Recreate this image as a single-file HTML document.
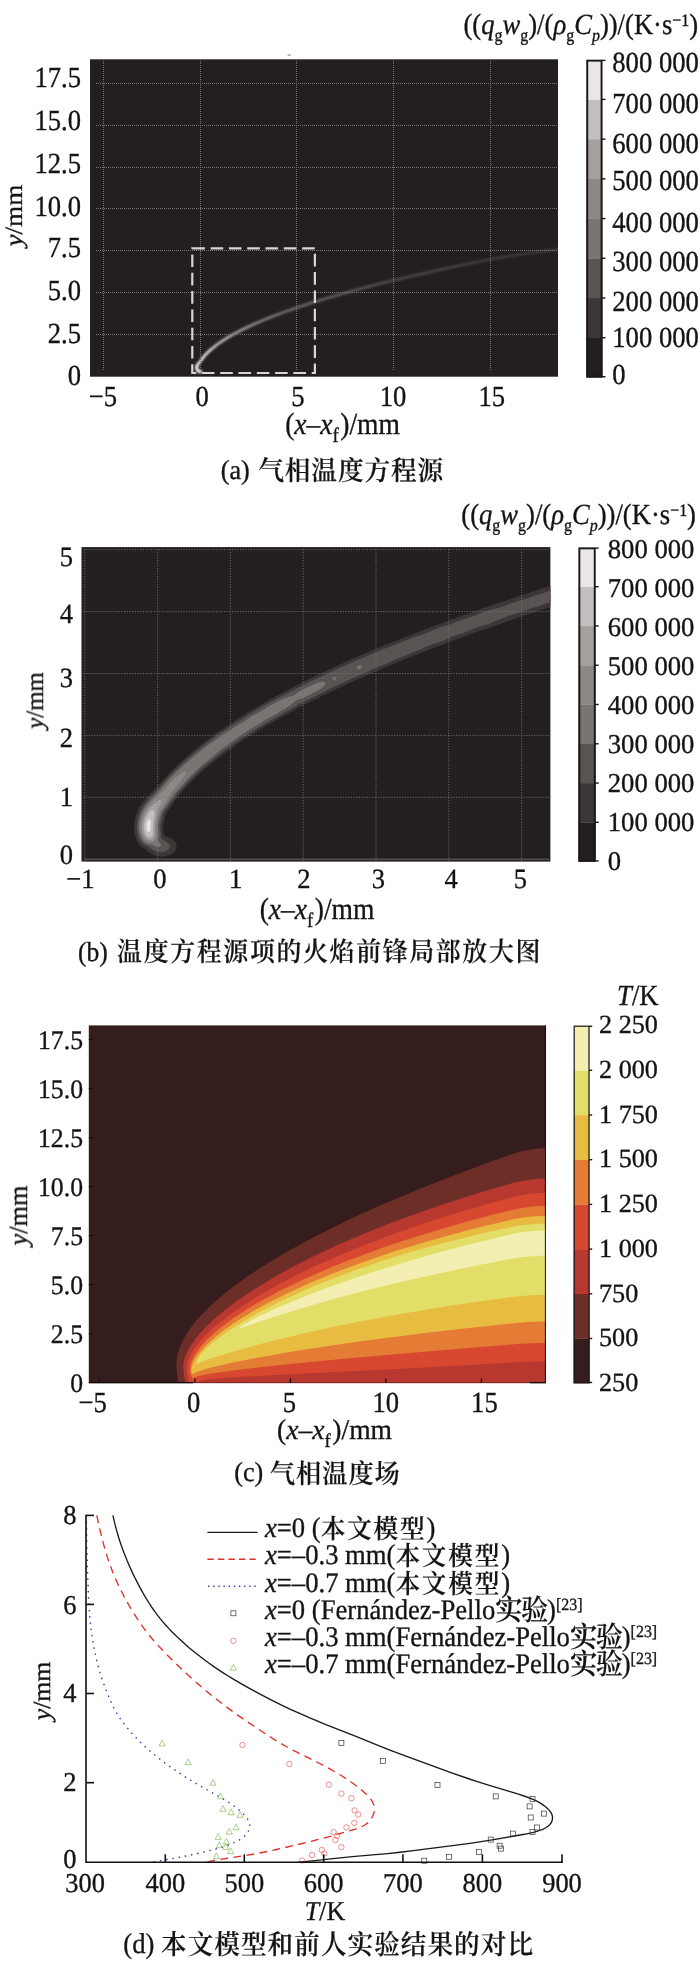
<!DOCTYPE html>
<html lang="zh">
<head>
<meta charset="utf-8">
<title>Figure</title>
<style>
html,body{margin:0;padding:0;background:#fff;}
body{width:700px;height:1963px;overflow:hidden;}
svg{display:block;font-family:"Liberation Serif", "Noto Serif CJK SC", serif;fill:#141414;text-rendering:geometricPrecision;}
text{stroke:#141414;stroke-width:0.35px;}
.it{font-style:italic;}
</style>
</head>
<body>
<svg width="700" height="1963" viewBox="0 0 700 1963">
<rect x="0" y="0" width="700" height="1963" fill="#ffffff"/>
<g opacity="0.999">
<g id="panel-a">
<rect x="287.6" y="54.3" width="3" height="1.5" fill="#a3a3a3"/>
<rect x="90.0" y="59.3" width="468.0" height="317.4" fill="#231f1e"/>
<defs>
<linearGradient id="flameA" gradientUnits="userSpaceOnUse" x1="194" y1="0" x2="558" y2="0"><stop offset="0.0000" stop-color="#fffbf9"/><stop offset="0.0302" stop-color="#ebe7e5"/><stop offset="0.0687" stop-color="#c3bfbd"/><stop offset="0.1319" stop-color="#9e9a98"/><stop offset="0.1923" stop-color="#85817f"/><stop offset="0.2912" stop-color="#6e6a68"/><stop offset="0.5659" stop-color="#4e4a48"/><stop offset="0.8407" stop-color="#403c3a"/><stop offset="1.0000" stop-color="#3a3634"/></linearGradient>
<filter id="soft" filterUnits="userSpaceOnUse" x="80" y="50" width="490" height="340"><feGaussianBlur stdDeviation="1.0"/></filter>
<clipPath id="clipA"><rect x="90.0" y="59.3" width="468.0" height="317.4"/></clipPath>
</defs>
<g clip-path="url(#clipA)" fill="none" stroke-linecap="round" stroke-linejoin="round"><path d="M200.78,371.59 L199.73,371.69 L198.81,371.43 L198.03,370.87 L197.41,370.08 L196.97,369.11 L196.73,368.04 L196.72,366.91 L196.98,365.78 L197.53,364.69 L198.34,363.68 L200,361.94 L201.87,359.15 L204.03,356.43 L205.8,354.45 L207.7,352.51 L210.41,349.98 L214.07,346.92 L217.2,344.53 L221.34,341.63 L227.51,337.71 L235.06,333.4 L243.09,329.25 L252.63,324.75 L262.66,320.41 L273.15,316.21 L284.05,312.13 L296.62,307.73 L309.64,303.46 L324.44,298.89 L339.72,294.43 L356.9,289.7 L374.59,285.08 L392.75,280.58 L411.36,276.17 L432,271.49 L451.56,267.25 L472.12,262.96 L485.91,260.26 L499.72,257.77 L514.93,255.24 L531.54,252.73 L546.78,250.65 L563.42,248.6" stroke="url(#flameA)" stroke-width="2.6" filter="url(#soft)"/><path d="M200.78,371.59 L199.73,371.69 L198.81,371.43 L198.03,370.87 L197.41,370.08 L196.97,369.11 L196.73,368.04 L196.72,366.91 L196.98,365.78" stroke="#f4f0ee" stroke-opacity="0.5" stroke-width="2.4" filter="url(#soft)"/></g>
<g stroke="#7b7775" stroke-width="1" stroke-dasharray="1 1" fill="none"><line x1="103.5" y1="61" x2="103.5" y2="371"/><line x1="200.5" y1="61" x2="200.5" y2="371"/><line x1="296.5" y1="61" x2="296.5" y2="371"/><line x1="393.5" y1="61" x2="393.5" y2="371"/><line x1="490.5" y1="61" x2="490.5" y2="371"/><line x1="96" y1="83.5" x2="557" y2="83.5"/><line x1="96" y1="125.5" x2="557" y2="125.5"/><line x1="96" y1="167.5" x2="557" y2="167.5"/><line x1="96" y1="208.5" x2="557" y2="208.5"/><line x1="96" y1="250.5" x2="557" y2="250.5"/><line x1="96" y1="292.5" x2="557" y2="292.5"/><line x1="96" y1="334.5" x2="557" y2="334.5"/></g>
<rect x="192.3" y="248.3" width="122.6" height="124.7" fill="none" stroke="#d9d5d2" stroke-width="2.2" stroke-dasharray="12.6 5.7"/>
<text transform="translate(81,86.85) scale(0.912,1)" font-size="29.2" text-anchor="end">17.5</text>
<text transform="translate(81,129.85) scale(0.912,1)" font-size="29.2" text-anchor="end">15.0</text>
<text transform="translate(81,173.4) scale(0.912,1)" font-size="29.2" text-anchor="end">12.5</text>
<text transform="translate(81,215.7) scale(0.912,1)" font-size="29.2" text-anchor="end">10.0</text>
<text transform="translate(81,257.1) scale(0.912,1)" font-size="29.2" text-anchor="end">7.5</text>
<text transform="translate(81,300) scale(0.912,1)" font-size="29.2" text-anchor="end">5.0</text>
<text transform="translate(81,342.6) scale(0.912,1)" font-size="29.2" text-anchor="end">2.5</text>
<text transform="translate(81,384.7) scale(0.912,1)" font-size="29.2" text-anchor="end">0</text>
<text transform="translate(103,405.7) scale(0.912,1)" font-size="29.2" text-anchor="middle">−5</text>
<text transform="translate(202.2,405.7) scale(0.912,1)" font-size="29.2" text-anchor="middle">0</text>
<text transform="translate(297.9,405.7) scale(0.912,1)" font-size="29.2" text-anchor="middle">5</text>
<text transform="translate(393,405.7) scale(0.912,1)" font-size="29.2" text-anchor="middle">10</text>
<text transform="translate(491.8,405.7) scale(0.912,1)" font-size="29.2" text-anchor="middle">15</text>
<text transform="translate(342.5,434) scale(0.9,1)" font-size="30.6" text-anchor="middle">(<tspan class="it">x</tspan>–<tspan class="it">x</tspan><tspan font-size="20.8" baseline-shift="-8">f</tspan><tspan dx="1.6">)/mm</tspan></text>
<text transform="translate(22,215.6) rotate(-90) scale(1,0.912)" font-size="27.2" text-anchor="middle"><tspan class="it">y</tspan>/mm</text>
<text transform="translate(220.7,479.3) scale(0.95,1)" font-size="27.5" text-anchor="start">(a) <tspan dx="2.11" font-size="27.0" letter-spacing="0.95" font-weight="600" stroke-width="0.15" baseline-shift="-0.8">气相温度方程源</tspan></text>
<rect x="586.3" y="337.69" width="16.2" height="40.01" fill="#231f1e"/>
<rect x="586.3" y="297.97" width="16.2" height="40.01" fill="#3c3736"/>
<rect x="586.3" y="258.26" width="16.2" height="40.01" fill="#595352"/>
<rect x="586.3" y="218.55" width="16.2" height="40.01" fill="#7a7473"/>
<rect x="586.3" y="178.84" width="16.2" height="40.01" fill="#8d8786"/>
<rect x="586.3" y="139.12" width="16.2" height="40.01" fill="#a59f9e"/>
<rect x="586.3" y="99.41" width="16.2" height="40.01" fill="#c4bebe"/>
<rect x="586.3" y="59.7" width="16.2" height="40.01" fill="#ece6e6"/>
<rect x="587.25" y="60.65" width="14.3" height="315.8" fill="none" stroke="#1a1716" stroke-width="1.9"/>
<line x1="602" y1="60.4" x2="605.5" y2="60.4" stroke="#1a1716" stroke-width="1.4"/>
<line x1="602" y1="99.41" x2="605.5" y2="99.41" stroke="#1a1716" stroke-width="1.4"/>
<line x1="602" y1="139.12" x2="605.5" y2="139.12" stroke="#1a1716" stroke-width="1.4"/>
<line x1="602" y1="178.84" x2="605.5" y2="178.84" stroke="#1a1716" stroke-width="1.4"/>
<line x1="602" y1="218.55" x2="605.5" y2="218.55" stroke="#1a1716" stroke-width="1.4"/>
<line x1="602" y1="258.26" x2="605.5" y2="258.26" stroke="#1a1716" stroke-width="1.4"/>
<line x1="602" y1="297.97" x2="605.5" y2="297.97" stroke="#1a1716" stroke-width="1.4"/>
<line x1="602" y1="337.69" x2="605.5" y2="337.69" stroke="#1a1716" stroke-width="1.4"/>
<line x1="602" y1="376.7" x2="605.5" y2="376.7" stroke="#1a1716" stroke-width="1.4"/>
<text transform="translate(612.3,72.21) scale(0.912,1)" font-size="29.2" text-anchor="start">800 000</text>
<text transform="translate(612.3,113.01) scale(0.912,1)" font-size="29.2" text-anchor="start">700 000</text>
<text transform="translate(612.3,152.91) scale(0.912,1)" font-size="29.2" text-anchor="start">600 000</text>
<text transform="translate(612.3,189.61) scale(0.912,1)" font-size="29.2" text-anchor="start">500 000</text>
<text transform="translate(612.3,231.91) scale(0.912,1)" font-size="29.2" text-anchor="start">400 000</text>
<text transform="translate(612.3,271.11) scale(0.912,1)" font-size="29.2" text-anchor="start">300 000</text>
<text transform="translate(612.3,311.11) scale(0.912,1)" font-size="29.2" text-anchor="start">200 000</text>
<text transform="translate(612.3,346.81) scale(0.912,1)" font-size="29.2" text-anchor="start">100 000</text>
<text transform="translate(612.3,383.91) scale(0.912,1)" font-size="29.2" text-anchor="start">0</text>
<text transform="translate(698.2,34.1) scale(0.912,1)" font-size="29.2" text-anchor="end">((<tspan class="it">q</tspan><tspan font-size="17.5" baseline-shift="-6.8">g</tspan><tspan class="it">w</tspan><tspan font-size="17.5" baseline-shift="-6.8">g</tspan>)/(<tspan class="it">ρ</tspan><tspan font-size="17.5" baseline-shift="-6.8">g</tspan><tspan class="it">C</tspan><tspan class="it" font-size="17.5" baseline-shift="-6.8">p</tspan>))/(K·s<tspan font-size="17.5" baseline-shift="8.5">−1</tspan>)</text>
</g>
<g id="panel-b">
<rect x="81.5" y="547.1" width="468.9" height="314.5" fill="#231f1e"/>
<path d="M550.4,606.84 L506,621.64 L489,627.89 L480,630.79 L464,636.71 L455,639.76 L446,643.43 L428.17,650 L398.29,662 L372.08,673 L364,676.7 L353.89,681 L332.14,691 L299,707.45 L267.6,725 L252.67,734 L241.83,741 L235.91,745 L220.87,756 L205.97,768 L195,778 L188,785.06 L180.84,793 L176.98,798 L167,812.32 L166,814.18 L165.07,817 L163.83,822 L163.1,826 L163.04,829 L163.94,835 L165,836.04 L171,838.51 L173,839.68 L174,840.5 L175.31,842 L175.88,843 L176.29,844 L176.65,846 L176.47,848 L176.17,849 L175.12,851 L173.21,853 L171,854.48 L169,855.39 L166,856.25 L163,856.63 L160,856.58 L158,856.29 L155,855.48 L152,854.12 L149,852.21 L145.18,849 L143,847.69 L141,846.08 L139.07,844 L137.66,842 L136.18,839 L134.87,835 L134.14,831 L133.96,827 L134.47,821 L135.36,817 L136.28,814 L138.3,809 L141.39,804 L144.5,800 L148.05,796 L155,788.98 L169,773.42 L178,764.43 L186,757.17 L199,746.2 L205,741.5 L217,732.76 L234,721.27 L246,713.61 L265,702.25 L281,693.44 L289.85,689 L300,683.59 L314,676.61 L331,668.61 L355,657.64 L381,646.62 L406,636.64 L439,623.96 L448,620.96 L457,617.43 L473,611.88 L482,608.45 L499,602.97 L517,596.73 L550.4,585.66Z" fill="#3c3736"/>
<path d="M550.4,601.91 L546,603.44 L539,606.07 L530,608.78 L521.48,612 L504,617.45 L496,621 L488,624.19 L479,626.71 L462,633.41 L454,635.78 L445.01,640 L429,645.62 L418.94,650 L396,659.33 L387,663.43 L371,670.03 L362.78,674 L352,678.49 L330,688.71 L321.84,693 L298,704.76 L290,709.48 L267,722.4 L250,732.72 L237,741.25 L222.11,752 L207.17,764 L201,769.23 L189.82,780 L179.66,791 L174.84,797 L164.76,811 L163,814.43 L161.13,821 L160.29,826 L160.23,829 L160.91,834 L160.95,838 L163,839.71 L167.89,843 L169,844.29 L169.69,846 L169.7,847 L169.42,848 L168.84,849 L167.89,850 L166.38,851 L164,851.89 L162,852.23 L159,852.19 L157,851.78 L155,851.08 L153,850.08 L148.69,847 L145,845.31 L143.19,844 L142,842.89 L140.48,841 L139.34,839 L138.48,837 L137.54,834 L137.13,832 L136.75,827 L136.92,824 L137.33,821 L138.62,816 L140.52,811 L142.1,808 L144.03,805 L146.29,802 L150,797.61 L157,790.37 L168.65,777 L173,772.44 L179,766.57 L187,759.34 L201.66,747 L206,743.62 L220,733.53 L235,723.56 L250.01,714 L267,704 L282,695.88 L291,691.61 L299.39,687 L315,679.25 L323,675.75 L332.89,671 L348,664.28 L356,660.44 L365,656.94 L381,649.98 L390,646.68 L412.04,638 L424,633.88 L441,627.04 L450,624.57 L458,621.08 L475,615.62 L483.43,612 L493.63,609 L501,607.16 L509.21,604 L517.93,601 L526,598.71 L535,595.55 L543,593.31 L550.4,590.59Z" fill="#595352"/>
<path d="M357.56,666 L359,665.27 L360,665.34 L361,665.81 L361.22,666 L361.52,667 L361.26,668 L360,669.19 L359,669.34 L357.08,669 L356.52,668 L356.79,667 L357.56,666ZM334.97,677 L336,677.62 L336.23,678 L335.97,679 L335,679.65 L334,679.92 L333,679.63 L332.55,679 L332.97,678 L334,677.29 L334.97,677ZM320.23,682 L322,681.75 L324,681.81 L325,682.24 L325.51,683 L325.49,684 L325.01,685 L323.1,687 L320.51,689 L311.08,694 L303.04,698 L296,700.45 L291.98,704 L287.84,707 L272.64,716 L265,720.01 L257.54,725 L249,729.84 L235,739.21 L227.58,745 L221,749.57 L214,755.6 L200,766.89 L188,778.78 L176.09,792 L171.49,798 L162.95,810 L161.82,812 L160.97,814 L160,817.1 L159.02,821 L158.5,824 L158.2,827 L158.21,829 L158.76,834 L158.77,836 L158.46,838 L157.79,840 L158,840.75 L160.47,844 L160.94,845 L160.89,846 L159.75,847 L158,847.19 L156.81,847 L155,846.37 L152,844.85 L149,844.4 L147,843.77 L145,842.63 L143.18,841 L141.72,839 L139.96,835 L139.02,831 L138.76,827 L139.06,823 L139.86,819 L141.53,814 L143.35,810 L146.54,805 L152,798.42 L158.37,792 L168,780.79 L172,776.41 L178,770.5 L184,764.94 L199.24,752 L206.66,746 L214,741.14 L222,735.23 L230,730.33 L237.94,725 L244,721.44 L251.99,716 L260,711.78 L269.33,706 L278.91,701 L285.28,698 L289,696.79 L293,695.89 L300,691.06 L302.02,690 L308.01,687 L316.66,683 L320.23,682Z" fill="#7a7473"/>
<path d="M183.35,772 L185,771.51 L186.1,772 L186.18,773 L185.3,775 L181,781.13 L173.54,790 L171.46,793 L164.04,805 L161.14,809 L159.69,812 L157.85,818 L156.88,823 L156.47,828 L156.9,835 L156.64,837 L155.88,839 L155,840.27 L154,841.18 L152,842.15 L150,842.36 L149,842.23 L147,841.53 L144.86,840 L143.98,839 L142.75,837 L141.21,833 L140.54,829 L140.67,824 L141.41,820 L142.69,816 L144.9,811 L146.06,809 L148,806.25 L155,798.3 L162,792 L174.07,779 L179,774.87 L183.35,772Z" fill="#8d8786"/>
<path d="M158.82,800 L160,799.96 L161,800.7 L161.28,802 L160.74,804 L160,805.59 L159.01,807 L158.28,809 L155.8,819 L154.87,826 L154.81,830 L155,834 L154.85,836 L154.02,838 L153,839.15 L152,839.77 L151,840.1 L149,840.07 L147,839.24 L145.6,838 L144,835.48 L143,833 L142.49,831 L142.16,828 L142.35,824 L142.89,821 L143.79,818 L145,815.02 L146.48,812 L148,809.59 L150,807.18 L154.8,803 L155.56,802 L157,800.9 L158.82,800Z" fill="#a59f9e"/>
<path d="M152.2,810 L153,809.94 L154,810.75 L154.38,812 L154.45,813 L153.09,826 L152.79,834 L152.67,835 L152.3,836 L151.45,837 L150,837.58 L149,837.5 L148,837.09 L147,836.2 L146,834.87 L145,832.96 L144.37,831 L144,829 L143.95,826 L144.14,824 L144.77,821 L145.45,819 L148,813.82 L150,811.24 L151,810.47 L152.2,810Z" fill="#c4bebe"/>
<path d="M148.31,820 L149,819.18 L150,819.13 L150.41,820 L150.73,822 L150.51,828 L150.27,830 L150,831.09 L149,832.16 L148,831.89 L147,830.45 L146.45,828 L146.54,825 L146.88,823 L148,820.33 L148.31,820Z" fill="#ece6e6"/>
<g stroke="#7b7775" stroke-width="0.9" stroke-dasharray="1.1 1.6" fill="none"><line x1="84.8" y1="549.1" x2="84.8" y2="860.6"/><line x1="157.6" y1="549.1" x2="157.6" y2="860.6"/><line x1="230.4" y1="549.1" x2="230.4" y2="860.6"/><line x1="303.2" y1="549.1" x2="303.2" y2="860.6"/><line x1="376" y1="549.1" x2="376" y2="860.6"/><line x1="448.8" y1="549.1" x2="448.8" y2="860.6"/><line x1="521.6" y1="549.1" x2="521.6" y2="860.6"/><line x1="83.5" y1="797.3" x2="549.4" y2="797.3"/><line x1="83.5" y1="735.4" x2="549.4" y2="735.4"/><line x1="83.5" y1="673.5" x2="549.4" y2="673.5"/><line x1="83.5" y1="611.6" x2="549.4" y2="611.6"/><line x1="83.5" y1="549.7" x2="549.4" y2="549.7"/><line x1="84.5" y1="859.2" x2="549.4" y2="859.2" stroke="#7d7976" stroke-width="0.8" stroke-dasharray="none"/></g>
<text transform="translate(73,565.85) scale(0.955,1)" font-size="27.8" text-anchor="end">5</text>
<text transform="translate(73,622.85) scale(0.955,1)" font-size="27.8" text-anchor="end">4</text>
<text transform="translate(73,687.05) scale(0.955,1)" font-size="27.8" text-anchor="end">3</text>
<text transform="translate(73,746.75) scale(0.955,1)" font-size="27.8" text-anchor="end">2</text>
<text transform="translate(73,806.45) scale(0.955,1)" font-size="27.8" text-anchor="end">1</text>
<text transform="translate(73,864.35) scale(0.955,1)" font-size="27.8" text-anchor="end">0</text>
<text transform="translate(80.3,888.2) scale(0.955,1)" font-size="27.8" text-anchor="middle">−1</text>
<text transform="translate(160,888.2) scale(0.955,1)" font-size="27.8" text-anchor="middle">0</text>
<text transform="translate(235.7,888.2) scale(0.955,1)" font-size="27.8" text-anchor="middle">1</text>
<text transform="translate(304,888.2) scale(0.955,1)" font-size="27.8" text-anchor="middle">2</text>
<text transform="translate(378.4,888.2) scale(0.955,1)" font-size="27.8" text-anchor="middle">3</text>
<text transform="translate(451.2,888.2) scale(0.955,1)" font-size="27.8" text-anchor="middle">4</text>
<text transform="translate(520.3,888.2) scale(0.955,1)" font-size="27.8" text-anchor="middle">5</text>
<text transform="translate(317,919) scale(0.9,1)" font-size="30.6" text-anchor="middle">(<tspan class="it">x</tspan>–<tspan class="it">x</tspan><tspan font-size="20.8" baseline-shift="-8">f</tspan><tspan dx="1.6">)/mm</tspan></text>
<text transform="translate(43,700.5) rotate(-90) scale(1,1.0)" font-size="24.8" text-anchor="middle"><tspan class="it">y</tspan>/mm</text>
<text transform="translate(77.9,960.7) scale(0.93,1)" font-size="27.5" text-anchor="start">(b) <tspan dx="3.23" font-size="26.8" letter-spacing="1.76" font-weight="600" stroke-width="0.15" baseline-shift="0">温度方程源项的火焰前锋局部放大图</tspan></text>
<rect x="578.4" y="822.33" width="17.3" height="39.58" fill="#231f1e"/>
<rect x="578.4" y="783.05" width="17.3" height="39.58" fill="#3c3736"/>
<rect x="578.4" y="743.77" width="17.3" height="39.58" fill="#595352"/>
<rect x="578.4" y="704.5" width="17.3" height="39.58" fill="#7a7473"/>
<rect x="578.4" y="665.23" width="17.3" height="39.58" fill="#8d8786"/>
<rect x="578.4" y="625.95" width="17.3" height="39.58" fill="#a59f9e"/>
<rect x="578.4" y="586.67" width="17.3" height="39.58" fill="#c4bebe"/>
<rect x="578.4" y="547.4" width="17.3" height="39.58" fill="#ece6e6"/>
<rect x="579.35" y="548.35" width="15.4" height="312.3" fill="none" stroke="#1a1716" stroke-width="1.9"/>
<line x1="595.2" y1="548.1" x2="598.7" y2="548.1" stroke="#1a1716" stroke-width="1.4"/>
<line x1="595.2" y1="586.67" x2="598.7" y2="586.67" stroke="#1a1716" stroke-width="1.4"/>
<line x1="595.2" y1="625.95" x2="598.7" y2="625.95" stroke="#1a1716" stroke-width="1.4"/>
<line x1="595.2" y1="665.23" x2="598.7" y2="665.23" stroke="#1a1716" stroke-width="1.4"/>
<line x1="595.2" y1="704.5" x2="598.7" y2="704.5" stroke="#1a1716" stroke-width="1.4"/>
<line x1="595.2" y1="743.77" x2="598.7" y2="743.77" stroke="#1a1716" stroke-width="1.4"/>
<line x1="595.2" y1="783.05" x2="598.7" y2="783.05" stroke="#1a1716" stroke-width="1.4"/>
<line x1="595.2" y1="822.33" x2="598.7" y2="822.33" stroke="#1a1716" stroke-width="1.4"/>
<line x1="595.2" y1="860.9" x2="598.7" y2="860.9" stroke="#1a1716" stroke-width="1.4"/>
<text transform="translate(607.8,558.35) scale(0.98,1)" font-size="27.2" text-anchor="start">800 000</text>
<text transform="translate(607.8,597.25) scale(0.98,1)" font-size="27.2" text-anchor="start">700 000</text>
<text transform="translate(607.8,636.15) scale(0.98,1)" font-size="27.2" text-anchor="start">600 000</text>
<text transform="translate(607.8,675.05) scale(0.98,1)" font-size="27.2" text-anchor="start">500 000</text>
<text transform="translate(607.8,713.95) scale(0.98,1)" font-size="27.2" text-anchor="start">400 000</text>
<text transform="translate(607.8,752.85) scale(0.98,1)" font-size="27.2" text-anchor="start">300 000</text>
<text transform="translate(607.8,791.75) scale(0.98,1)" font-size="27.2" text-anchor="start">200 000</text>
<text transform="translate(607.8,830.65) scale(0.98,1)" font-size="27.2" text-anchor="start">100 000</text>
<text transform="translate(607.8,869.55) scale(0.98,1)" font-size="27.2" text-anchor="start">0</text>
<text transform="translate(696,524) scale(0.912,1)" font-size="29.2" text-anchor="end">((<tspan class="it">q</tspan><tspan font-size="17.5" baseline-shift="-6.8">g</tspan><tspan class="it">w</tspan><tspan font-size="17.5" baseline-shift="-6.8">g</tspan>)/(<tspan class="it">ρ</tspan><tspan font-size="17.5" baseline-shift="-6.8">g</tspan><tspan class="it">C</tspan><tspan class="it" font-size="17.5" baseline-shift="-6.8">p</tspan>))/(K·s<tspan font-size="17.5" baseline-shift="8.5">−1</tspan>)</text>
</g>
<g id="panel-c">
<rect x="88.8" y="1025.4" width="457.1" height="357.6" fill="#341d1c"/>
<clipPath id="clipC"><rect x="88.8" y="1025.4" width="457.1" height="357.6"/></clipPath>
<g clip-path="url(#clipC)">
<path d="M546.72,1148.05 L538.65,1148.42 L530.66,1149.4 L526.13,1150.24 L521.63,1151.26 L513.86,1153.52 L485.66,1163.54 L457.11,1174.15 L430.36,1184.56 L404.39,1195.16 L383.04,1204.29 L362.31,1213.56 L343.12,1222.55 L324.56,1231.69 L307.49,1240.54 L291.06,1249.53 L275.31,1258.68 L261.02,1267.52 L248.85,1275.57 L237.95,1283.27 L227.65,1291.11 L217.99,1299.08 L209.58,1306.69 L202.36,1313.93 L195.81,1321.29 L192.81,1325.03 L190.01,1328.8 L187.43,1332.6 L185.39,1335.89 L183.53,1339.21 L181.86,1342.54 L180.39,1345.9 L179.14,1349.28 L178.11,1352.66 L177.43,1355.51 L176.94,1358.26 L176.62,1361.16 L176.48,1363.91 L176.52,1366.97 L177.12,1373.62 L178.67,1383.78 L548.72,1383.78 L548.72,1148.05Z" fill="#6e2e28"/>
<path d="M546.72,1178.43 L537.85,1178.78 L529.05,1179.71 L520.35,1181.23 L512.83,1183.05 L487.53,1190.34 L461.79,1198.24 L436.71,1206.46 L413.27,1214.64 L393.31,1222.02 L374.79,1229.26 L356.77,1236.68 L339.29,1244.29 L322.35,1252.09 L306.81,1259.67 L291.06,1267.82 L276.71,1275.74 L263.71,1283.39 L251.99,1290.75 L240.87,1298.23 L230.39,1305.85 L220.62,1313.59 L212.13,1321 L204.89,1328.04 L201.33,1331.84 L198.41,1335.19 L195.68,1338.56 L193.17,1341.95 L190.87,1345.36 L189.11,1348.29 L187.53,1351.24 L186.17,1354.19 L185.05,1357.14 L184.17,1360.1 L183.65,1362.52 L183.33,1365.19 L183.33,1369.59 L183.63,1372.58 L184.3,1376.75 L185.92,1383.78 L548.72,1383.78 L548.72,1178.43Z" fill="#b8372f"/>
<path d="M546.72,1192.68 L538.02,1193 L529.4,1193.85 L520.86,1195.24 L512.43,1197.17 L487.6,1203.98 L462.33,1211.35 L438.67,1218.71 L415.61,1226.33 L395.96,1233.21 L377.71,1239.94 L359.96,1246.85 L342.71,1253.93 L325.99,1261.19 L309.84,1268.61 L294.29,1276.2 L280.1,1283.57 L267.24,1290.68 L254.96,1297.92 L243.96,1304.89 L233.58,1311.96 L223.88,1319.16 L215.45,1326.04 L208.23,1332.58 L204.68,1336.11 L201.77,1339.22 L196.88,1345.05 L194.56,1348.22 L192.76,1350.95 L191.16,1353.69 L189.78,1356.44 L188.63,1359.19 L187.75,1361.95 L187.33,1363.73 L186.98,1366.14 L186.88,1368.48 L187.02,1371.15 L187.38,1374.04 L187.94,1377.04 L188.64,1380.02 L189.74,1383.78 L548.72,1383.78 L548.72,1192.68Z" fill="#d84830"/>
<path d="M195.86,1382.99 L195.93,1382.68 L196.52,1382.09 L198.51,1381.26 L201.82,1380.48 L206.47,1379.74 L212.44,1379.04 L219.73,1378.37 L241.92,1376.82 L276.11,1374.97 L410.75,1368.27 L461.16,1365.5 L516.88,1362.22 L526.68,1361.78 L536.63,1361.51 L548.72,1361.41 L548.72,1384.56 L196.62,1384.56Z" fill="#b8372f"/>
<path d="M546.72,1205.86 L538.66,1206.11 L528.66,1207.01 L520.75,1208.21 L512.92,1209.84 L489.82,1215.6 L467.2,1221.62 L443.26,1228.4 L421.7,1234.9 L402.42,1241.07 L385.31,1246.85 L366.96,1253.38 L350.74,1259.49 L334.97,1265.75 L319.68,1272.17 L304.89,1278.74 L290.64,1285.47 L276.95,1292.35 L265.16,1298.67 L253.89,1305.11 L243.2,1311.68 L233.14,1318.37 L223.77,1325.19 L216.09,1331.36 L209.09,1337.64 L205.88,1340.82 L202.89,1344.03 L198.22,1349.71 L195.92,1353 L194.39,1355.48 L193.06,1357.97 L191.93,1360.47 L191.03,1362.98 L190.39,1365.42 L190.05,1367.67 L189.95,1370.38 L190.37,1373.17 L190.87,1374.7 L191.56,1376.32 L192.33,1377.71 L193.01,1378.45 L193.47,1378.22 L193.81,1377.66 L195.2,1377.01 L199.68,1375.71 L207.88,1374.07 L218.53,1372.38 L232.77,1370.46 L249.73,1368.41 L270.81,1366.09 L294.91,1363.61 L336.28,1359.62 L386.06,1355.09 L444.81,1349.98 L511.12,1344.39 L520.91,1343.67 L530.78,1343.18 L540.72,1342.91 L548.72,1342.85 L548.72,1205.86Z" fill="#e47c36"/>
<path d="M546.72,1215.66 L538.73,1215.89 L528.81,1216.72 L520.96,1217.81 L513.19,1219.31 L492.13,1224.21 L471.48,1229.33 L449.42,1235.16 L429.64,1240.73 L412.05,1245.96 L394.84,1251.37 L378.03,1256.94 L361.64,1262.67 L345.68,1268.57 L330.17,1274.62 L315.15,1280.83 L302.06,1286.55 L288.03,1293.04 L275.88,1299.01 L264.23,1305.1 L253.11,1311.3 L242.56,1317.61 L233.71,1323.32 L224.39,1329.84 L216.75,1335.73 L209.8,1341.72 L206.61,1344.74 L203.63,1347.78 L199,1353.17 L196.73,1356.27 L195.24,1358.61 L193.56,1361.75 L192.56,1364.1 L191.84,1366.38 L191.31,1369.6 L191.28,1370.75 L191.42,1371.68 L191.8,1372.55 L192.43,1373.53 L193.16,1374.32 L193.72,1374.37 L194.4,1373.35 L196.37,1372.3 L199.55,1371.03 L204.08,1369.55 L210.11,1367.84 L216.78,1366.15 L232.8,1362.53 L251.99,1358.69 L274.32,1354.63 L299.82,1350.37 L326.98,1346.18 L360.54,1341.37 L395.91,1336.67 L432.93,1332.09 L471.46,1327.66 L503.68,1324.17 L519.15,1322.64 L526.97,1322.09 L534.83,1321.72 L548.72,1321.5 L548.72,1215.66Z" fill="#e8bc40"/>
<path d="M546.72,1223.48 L538.94,1223.67 L529.28,1224.38 L521.61,1225.31 L514.03,1226.6 L497.18,1230.12 L478.76,1234.26 L462.46,1238.16 L444.67,1242.68 L428.95,1246.92 L413.53,1251.31 L398.41,1255.86 L383.6,1260.55 L369.11,1265.38 L354.96,1270.35 L341.16,1275.44 L326.25,1281.25 L313.23,1286.61 L300.62,1292.07 L288.43,1297.64 L276.69,1303.3 L265.43,1309.04 L254.67,1314.86 L244.47,1320.74 L234.87,1326.67 L225.94,1332.64 L218.63,1337.96 L211.99,1343.27 L206.15,1348.57 L201.84,1353.17 L199.79,1355.77 L198.5,1357.71 L197.78,1358.99 L196.96,1360.84 L196.53,1362.56 L196.43,1363.5 L196.52,1364.11 L199.75,1362.6 L205.08,1360.57 L212.38,1358.05 L221.68,1355.06 L240.81,1349.38 L262.41,1343.5 L284.67,1337.89 L308.49,1332.31 L333.71,1326.81 L358.6,1321.75 L387.82,1316.23 L418.25,1310.92 L449.8,1305.84 L480.57,1301.29 L510.33,1297.24 L521.69,1295.94 L535.11,1295.04 L548.72,1294.78 L548.72,1223.48Z" fill="#e3de68"/>
<path d="M546.72,1230.32 L541.67,1230.42 L534.98,1230.79 L528.33,1231.43 L523.38,1232.09 L513.58,1233.87 L492.74,1238.68 L463.11,1245.99 L433.01,1254 L405.53,1261.88 L377.87,1270.4 L354.18,1278.22 L331.73,1286.13 L310.65,1294.07 L290.08,1302.38 L280.05,1306.68 L269.73,1311.3 L260.27,1315.78 L252.56,1319.65 L245.91,1323.25 L241.22,1326.11 L239.48,1327.53 L239.39,1328.07 L239.61,1328.51 L259.26,1321.69 L275.33,1316.38 L293.55,1310.68 L313.52,1304.75 L333.76,1299.05 L355.2,1293.32 L377.72,1287.59 L399.83,1282.25 L427.15,1276.01 L454.03,1270.23 L481.81,1264.6 L512.06,1258.84 L521.83,1257.31 L530.05,1256.42 L540.02,1255.8 L548.72,1255.67 L548.72,1230.32Z" fill="#f3eeb2"/>
</g>
<g stroke="#111" stroke-width="1.3"><line x1="88.8" y1="1333.6" x2="92.8" y2="1333.6"/><line x1="88.8" y1="1284.6" x2="92.8" y2="1284.6"/><line x1="88.8" y1="1235.6" x2="92.8" y2="1235.6"/><line x1="88.8" y1="1186.6" x2="92.8" y2="1186.6"/><line x1="88.8" y1="1137.6" x2="92.8" y2="1137.6"/><line x1="88.8" y1="1088.6" x2="92.8" y2="1088.6"/><line x1="88.8" y1="1039.6" x2="92.8" y2="1039.6"/><line x1="99.4" y1="1383.0" x2="99.4" y2="1378.5"/><line x1="194.9" y1="1383.0" x2="194.9" y2="1378.5"/><line x1="290.4" y1="1383.0" x2="290.4" y2="1378.5"/><line x1="385.9" y1="1383.0" x2="385.9" y2="1378.5"/><line x1="481.4" y1="1383.0" x2="481.4" y2="1378.5"/></g>
<line x1="88.8" y1="1382.8" x2="545.9" y2="1382.8" stroke="#3a0d0a" stroke-opacity="0.55" stroke-width="0.9"/>
<line x1="88.8" y1="1382.7" x2="193" y2="1382.7" stroke="#130b0a" stroke-width="1.3"/>
<line x1="545.4" y1="1025.4" x2="545.4" y2="1383.0" stroke="#1c100e" stroke-width="1"/>
<line x1="530" y1="1382.6" x2="545.9" y2="1382.6" stroke="#1c100e" stroke-width="1.4"/>
<text transform="translate(83,1392.02) scale(0.96,1)" font-size="26.8" text-anchor="end">0</text>
<text transform="translate(83,1343.02) scale(0.96,1)" font-size="26.8" text-anchor="end">2.5</text>
<text transform="translate(83,1294.02) scale(0.96,1)" font-size="26.8" text-anchor="end">5.0</text>
<text transform="translate(83,1245.02) scale(0.96,1)" font-size="26.8" text-anchor="end">7.5</text>
<text transform="translate(83,1196.02) scale(0.96,1)" font-size="26.8" text-anchor="end">10.0</text>
<text transform="translate(83,1147.02) scale(0.96,1)" font-size="26.8" text-anchor="end">12.5</text>
<text transform="translate(83,1098.02) scale(0.96,1)" font-size="26.8" text-anchor="end">15.0</text>
<text transform="translate(83,1049.02) scale(0.96,1)" font-size="26.8" text-anchor="end">17.5</text>
<text transform="translate(92.6,1412) scale(0.912,1)" font-size="29.2" text-anchor="middle">−5</text>
<text transform="translate(193.7,1412) scale(0.912,1)" font-size="29.2" text-anchor="middle">0</text>
<text transform="translate(289.4,1412) scale(0.912,1)" font-size="29.2" text-anchor="middle">5</text>
<text transform="translate(385.8,1412) scale(0.912,1)" font-size="29.2" text-anchor="middle">10</text>
<text transform="translate(484.4,1412) scale(0.912,1)" font-size="29.2" text-anchor="middle">15</text>
<text transform="translate(334.5,1438.7) scale(0.968,1)" font-size="28.5" text-anchor="middle">(<tspan class="it">x</tspan>–<tspan class="it">x</tspan><tspan font-size="19.4" baseline-shift="-8">f</tspan><tspan dx="1.6">)/mm</tspan></text>
<text transform="translate(27,1215.5) rotate(-90) scale(1,1.0)" font-size="26.3" text-anchor="middle"><tspan class="it">y</tspan>/mm</text>
<text transform="translate(234.3,1481.2) scale(0.95,1)" font-size="27.5" text-anchor="start">(c) <tspan font-size="26.6" letter-spacing="0.98" font-weight="600" stroke-width="0.15" baseline-shift="-1.5">气相温度场</tspan></text>
<rect x="573.6" y="1338.5" width="16" height="45" fill="#341d1c"/>
<rect x="573.6" y="1293.8" width="16" height="45" fill="#6e2e28"/>
<rect x="573.6" y="1249.1" width="16" height="45" fill="#b8372f"/>
<rect x="573.6" y="1204.4" width="16" height="45" fill="#d84830"/>
<rect x="573.6" y="1159.7" width="16" height="45" fill="#e47c36"/>
<rect x="573.6" y="1115" width="16" height="45" fill="#e8bc40"/>
<rect x="573.6" y="1070.3" width="16" height="45" fill="#e3de68"/>
<rect x="573.6" y="1025.6" width="16" height="45" fill="#f3eeb2"/>
<rect x="574.2" y="1026.2" width="14.8" height="356.4" fill="none" stroke="#1a1716" stroke-width="1.2"/>
<line x1="589.1" y1="1026.3" x2="592.2" y2="1026.3" stroke="#1a1716" stroke-width="1.4"/>
<line x1="589.1" y1="1070.3" x2="592.2" y2="1070.3" stroke="#1a1716" stroke-width="1.4"/>
<line x1="589.1" y1="1115" x2="592.2" y2="1115" stroke="#1a1716" stroke-width="1.4"/>
<line x1="589.1" y1="1159.7" x2="592.2" y2="1159.7" stroke="#1a1716" stroke-width="1.4"/>
<line x1="589.1" y1="1204.4" x2="592.2" y2="1204.4" stroke="#1a1716" stroke-width="1.4"/>
<line x1="589.1" y1="1249.1" x2="592.2" y2="1249.1" stroke="#1a1716" stroke-width="1.4"/>
<line x1="589.1" y1="1293.8" x2="592.2" y2="1293.8" stroke="#1a1716" stroke-width="1.4"/>
<line x1="589.1" y1="1338.5" x2="592.2" y2="1338.5" stroke="#1a1716" stroke-width="1.4"/>
<line x1="589.1" y1="1382.5" x2="592.2" y2="1382.5" stroke="#1a1716" stroke-width="1.4"/>
<text transform="translate(599,1033.12) scale(1.0,1)" font-size="26.2" text-anchor="start">2 250</text>
<text transform="translate(599,1077.87) scale(1.0,1)" font-size="26.2" text-anchor="start">2 000</text>
<text transform="translate(599,1122.62) scale(1.0,1)" font-size="26.2" text-anchor="start">1 750</text>
<text transform="translate(599,1167.37) scale(1.0,1)" font-size="26.2" text-anchor="start">1 500</text>
<text transform="translate(599,1212.12) scale(1.0,1)" font-size="26.2" text-anchor="start">1 250</text>
<text transform="translate(599,1256.87) scale(1.0,1)" font-size="26.2" text-anchor="start">1 000</text>
<text transform="translate(599,1301.62) scale(1.0,1)" font-size="26.2" text-anchor="start">750</text>
<text transform="translate(599,1346.37) scale(1.0,1)" font-size="26.2" text-anchor="start">500</text>
<text transform="translate(599,1391.12) scale(1.0,1)" font-size="26.2" text-anchor="start">250</text>
<text transform="translate(658.5,1005) scale(0.912,1)" font-size="29.2" text-anchor="end"><tspan class="it">T</tspan>/K</text>
</g>
<g id="panel-d">
<clipPath id="clipD"><rect x="86.0" y="1514" width="500" height="348.3"/></clipPath>
<g clip-path="url(#clipD)" fill="none">
<path d="M112.9,1515.4 L114.92,1524.13 L116.03,1528.4 L118.45,1536.8 L119.75,1540.93 L122.56,1549.07 L124.06,1553.09 L127.26,1561.05 L128.96,1565.01 L132.54,1572.87 L134.43,1576.79 L138.41,1584.62 L142.65,1592.44 L144.89,1596.33 L149.61,1603.99 L152.11,1607.75 L154.7,1611.45 L157.39,1615.08 L160.19,1618.64 L163.09,1622.13 L166.08,1625.54 L169.16,1628.9 L172.33,1632.19 L178.92,1638.62 L185.8,1644.85 L189.35,1647.9 L196.59,1653.84 L204,1659.55 L207.74,1662.31 L215.26,1667.6 L222.79,1672.59 L226.57,1674.98 L234.17,1679.61 L245.78,1686.31 L257.77,1692.92 L270.08,1699.4 L282.6,1705.62 L291,1709.57 L303.63,1715.21 L312.05,1718.8 L324.68,1724.01 L354.06,1735.74 L379.22,1745.9 L391.83,1750.87 L408.7,1757.19 L450.92,1772.59 L467.95,1778.51 L476.52,1781.34 L489.31,1785.38 L517.64,1793.92 L524.75,1796.26 L531.13,1798.65 L534.05,1799.89 L536.81,1801.21 L539.44,1802.62 L541.94,1804.15 L544.35,1805.83 L546.62,1807.65 L548.66,1809.6 L550.36,1811.67 L551.63,1813.82 L552.37,1816.04 L552.54,1818.29 L552.16,1820.51 L551.27,1822.6 L549.88,1824.52 L548.04,1826.23 L545.82,1827.73 L543.28,1829.05 L540.49,1830.21 L537.51,1831.22 L534.39,1832.12 L531.17,1832.92 L524.44,1834.29 L492.18,1839.87 L473.24,1842.84 L452.65,1845.66 L413.17,1850.67 L400.19,1852.24 L387.24,1853.62 L352.4,1856.7 L330.54,1858.86 L309.45,1861.19 L290,1863.5" stroke="#1a1a1a" stroke-width="1.35"/>
<path d="M96.8,1515.4 L99.21,1526.64 L102.04,1538.46 L104.5,1547.59 L107.3,1556.87 L110.5,1566.21 L112.86,1572.43 L115.43,1578.62 L119.64,1587.8 L124.24,1596.82 L129.15,1605.64 L134.31,1614.21 L139.76,1622.51 L143.57,1627.89 L145.54,1630.53 L149.61,1635.71 L151.71,1638.25 L156.04,1643.24 L162.77,1650.48 L169.65,1657.48 L178.87,1666.51 L188.31,1675.36 L195.79,1682.06 L206.55,1691.23 L215.05,1698.13 L223.66,1704.84 L232.13,1711.16 L243.06,1718.88 L256.58,1727.97 L270.45,1737.04 L276.02,1740.56 L281.53,1743.9 L286.93,1747.01 L292.2,1749.83 L297.4,1752.45 L313.57,1760.34 L325.28,1766.45 L331.11,1769.67 L336.72,1772.89 L341.94,1776.04 L346.69,1779.06 L351.06,1782.02 L357.13,1786.5 L362.96,1791.22 L366.59,1794.53 L368.24,1796.22 L369.76,1797.93 L371.09,1799.66 L372.23,1801.4 L373.15,1803.16 L373.84,1804.93 L374.29,1806.73 L374.49,1808.56 L374.43,1810.44 L374.11,1812.36 L373.52,1814.32 L372.68,1816.28 L371.6,1818.2 L370.3,1820.05 L368.78,1821.79 L367.06,1823.38 L365.14,1824.79 L363.06,1826.02 L360.85,1827.1 L358.54,1828.04 L356.16,1828.88 L351.35,1830.33 L332.64,1835.67 L321.09,1838.77 L311.14,1841.3 L297.12,1844.72 L276.54,1849.5 L263.54,1852.24 L254.21,1854 L245.19,1855.52 L218.64,1859.73 L209.51,1861.37 L200,1863.3" stroke="#e0302a" stroke-width="1.35" stroke-dasharray="7.8 5.4"/>
<path d="M86.3,1515.4 L86.56,1533.35 L87.09,1556.61 L87.64,1575.02 L88.37,1593.14 L89.06,1606.38 L89.68,1615.27 L90.71,1626.2 L91.71,1634.09 L92.51,1639.37 L93.43,1644.74 L94.47,1650.16 L95.6,1655.55 L96.81,1660.83 L98.08,1665.92 L100.09,1673.04 L101.47,1677.39 L102.89,1681.5 L105.08,1687.41 L107.37,1693.23 L110.63,1701.13 L112.43,1705.09 L114.4,1709.02 L116.57,1712.89 L117.73,1714.81 L120.21,1718.59 L124.29,1724.16 L128.73,1729.63 L131.87,1733.23 L135.14,1736.79 L140.27,1742.05 L145.65,1747.18 L151.28,1752.14 L157.11,1756.93 L165.16,1763.07 L173.41,1768.96 L181.81,1774.62 L190.37,1780.06 L196.91,1784.02 L203.56,1787.87 L218.85,1796.53 L224.96,1800.14 L230.64,1803.75 L234.2,1806.21 L237.56,1808.76 L240.73,1811.43 L243.68,1814.24 L245.02,1815.7 L246.24,1817.18 L247.32,1818.68 L248.24,1820.21 L248.96,1821.75 L249.47,1823.3 L249.74,1824.86 L249.77,1826.41 L249.58,1827.96 L249.17,1829.48 L248.55,1830.97 L247.75,1832.42 L246.76,1833.81 L245.61,1835.14 L244.3,1836.39 L242.85,1837.58 L241.26,1838.71 L239.57,1839.77 L235.87,1841.75 L233.9,1842.67 L229.78,1844.39 L223.28,1846.71 L216.48,1848.8 L209.45,1850.69 L199.82,1853.02 L190,1855.18 L177.57,1857.68 L165.13,1859.99 L148,1863" stroke="#3a3aa8" stroke-width="1.4" stroke-dasharray="1.5 4.8"/>
</g>
<g fill="none" stroke-width="0.65">
<g stroke="#2a2a2a"><rect x="338.9" y="1740.4" width="5.0" height="5.0"/><rect x="380.4" y="1758.6" width="5.0" height="5.0"/><rect x="435" y="1782.5" width="5.0" height="5.0"/><rect x="493.2" y="1793.9" width="5.0" height="5.0"/><rect x="530" y="1796.4" width="5.0" height="5.0"/><rect x="527.1" y="1803.9" width="5.0" height="5.0"/><rect x="541.4" y="1811.1" width="5.0" height="5.0"/><rect x="528.2" y="1815" width="5.0" height="5.0"/><rect x="534.6" y="1825" width="5.0" height="5.0"/><rect x="530" y="1829.6" width="5.0" height="5.0"/><rect x="510.4" y="1831.1" width="5.0" height="5.0"/><rect x="488.2" y="1837.1" width="5.0" height="5.0"/><rect x="497.1" y="1843.2" width="5.0" height="5.0"/><rect x="498.6" y="1846.1" width="5.0" height="5.0"/><rect x="476.4" y="1849.3" width="5.0" height="5.0"/><rect x="446.4" y="1854.3" width="5.0" height="5.0"/><rect x="421.8" y="1858.2" width="5.0" height="5.0"/><rect x="230.9" y="1610.8" width="5.0" height="5.0"/></g>
<g stroke="#e8524d"><circle cx="242.5" cy="1745" r="2.7"/><circle cx="289.3" cy="1763.9" r="2.7"/><circle cx="328.9" cy="1784.6" r="2.7"/><circle cx="341.4" cy="1793.6" r="2.7"/><circle cx="351.4" cy="1798.2" r="2.7"/><circle cx="354.6" cy="1810.4" r="2.7"/><circle cx="358.2" cy="1814.6" r="2.7"/><circle cx="354.3" cy="1822.9" r="2.7"/><circle cx="346.4" cy="1827.5" r="2.7"/><circle cx="333.6" cy="1832.1" r="2.7"/><circle cx="337.1" cy="1835.7" r="2.7"/><circle cx="335.4" cy="1840" r="2.7"/><circle cx="341.4" cy="1847.1" r="2.7"/><circle cx="321.8" cy="1850" r="2.7"/><circle cx="324.3" cy="1853.6" r="2.7"/><circle cx="312.1" cy="1855" r="2.7"/><circle cx="302.1" cy="1860.5" r="2.7"/><circle cx="233.4" cy="1640.8" r="2.7"/></g>
<g stroke="#7db54a"><path d="M162.1,1740.18L165.2,1745.88L159,1745.88Z"/><path d="M188.2,1759.08L191.3,1764.78L185.1,1764.78Z"/><path d="M212.9,1779.48L216,1785.18L209.8,1785.18Z"/><path d="M220.4,1792.98L223.5,1798.68L217.3,1798.68Z"/><path d="M222.9,1805.48L226,1811.18L219.8,1811.18Z"/><path d="M231.1,1809.08L234.2,1814.78L228,1814.78Z"/><path d="M240,1811.58L243.1,1817.28L236.9,1817.28Z"/><path d="M236.1,1824.08L239.2,1829.78L233,1829.78Z"/><path d="M229.3,1828.38L232.4,1834.08L226.2,1834.08Z"/><path d="M218.2,1833.68L221.3,1839.38L215.1,1839.38Z"/><path d="M226.4,1838.38L229.5,1844.08L223.3,1844.08Z"/><path d="M219.3,1841.98L222.4,1847.68L216.2,1847.68Z"/><path d="M225.7,1843.68L228.8,1849.38L222.6,1849.38Z"/><path d="M230.7,1847.98L233.8,1853.68L227.6,1853.68Z"/><path d="M216.4,1852.98L219.5,1858.68L213.3,1858.68Z"/><path d="M233.4,1664.48L236.5,1670.18L230.3,1670.18Z"/></g>
</g>
<g stroke="#111" stroke-width="1.6" fill="none"><path d="M86.0,1514.7 L86.0,1862.3 L562.8,1862.3"/><line x1="86.0" y1="1515.4" x2="94.0" y2="1515.4"/><line x1="86.0" y1="1604.4" x2="94.0" y2="1604.4"/><line x1="86.0" y1="1693.5" x2="94.0" y2="1693.5"/><line x1="86.0" y1="1782.7" x2="94.0" y2="1782.7"/><line x1="165.3" y1="1862.3" x2="165.3" y2="1854.3"/><line x1="244.3" y1="1862.3" x2="244.3" y2="1854.3"/><line x1="323.7" y1="1862.3" x2="323.7" y2="1854.3"/><line x1="402.9" y1="1862.3" x2="402.9" y2="1854.3"/><line x1="482.4" y1="1862.3" x2="482.4" y2="1854.3"/><line x1="562.0" y1="1862.3" x2="562.0" y2="1854.3"/></g>
<line x1="207.4" y1="1532.3" x2="257.6" y2="1532.3" stroke="#1a1a1a" stroke-width="1.35"/>
<line x1="207.4" y1="1559.2" x2="257.6" y2="1559.2" stroke="#e0302a" stroke-width="1.35" stroke-dasharray="6.4 4.1"/>
<line x1="208.0" y1="1586.2" x2="257.6" y2="1586.2" stroke="#3a3aa8" stroke-width="1.4" stroke-dasharray="1.4 3.75"/>
<text transform="translate(265,1537.3) scale(0.938,1)" font-size="28.4" text-anchor="start"><tspan class="it">x</tspan>=0 (<tspan font-size="26.3" letter-spacing="1.90" font-weight="600" stroke-width="0.15" baseline-shift="-1">本文模型</tspan>)</text>
<text transform="translate(265,1564.4) scale(0.938,1)" font-size="28.4" text-anchor="start"><tspan class="it">x</tspan>=–0.3 mm(<tspan font-size="26.3" letter-spacing="1.90" font-weight="600" stroke-width="0.15" baseline-shift="-1">本文模型</tspan>)</text>
<text transform="translate(265,1591.5) scale(0.938,1)" font-size="28.4" text-anchor="start"><tspan class="it">x</tspan>=–0.7 mm(<tspan font-size="26.3" letter-spacing="1.90" font-weight="600" stroke-width="0.15" baseline-shift="-1">本文模型</tspan>)</text>
<text transform="translate(265,1618.6) scale(0.938,1)" font-size="28.4" text-anchor="start"><tspan class="it">x</tspan>=0 (Fernández-Pello<tspan font-size="29.0" letter-spacing="-1.39" font-weight="600" stroke-width="0.15" baseline-shift="-1">实验</tspan>)<tspan font-size="17.0" baseline-shift="9">[23]</tspan></text>
<text transform="translate(265,1645.7) scale(0.938,1)" font-size="28.4" text-anchor="start"><tspan class="it">x</tspan>=–0.3 mm(Fernández-Pello<tspan font-size="29.0" letter-spacing="-1.39" font-weight="600" stroke-width="0.15" baseline-shift="-1">实验</tspan>)<tspan font-size="17.0" baseline-shift="9">[23]</tspan></text>
<text transform="translate(265,1672.8) scale(0.938,1)" font-size="28.4" text-anchor="start"><tspan class="it">x</tspan>=–0.7 mm(Fernández-Pello<tspan font-size="29.0" letter-spacing="-1.39" font-weight="600" stroke-width="0.15" baseline-shift="-1">实验</tspan>)<tspan font-size="17.0" baseline-shift="9">[23]</tspan></text>
<text transform="translate(76.5,1523.88) scale(0.97,1)" font-size="27.3" text-anchor="end">8</text>
<text transform="translate(76.5,1614.48) scale(0.97,1)" font-size="27.3" text-anchor="end">6</text>
<text transform="translate(76.5,1701.58) scale(0.97,1)" font-size="27.3" text-anchor="end">4</text>
<text transform="translate(76.5,1791.18) scale(0.97,1)" font-size="27.3" text-anchor="end">2</text>
<text transform="translate(76.5,1867.98) scale(0.97,1)" font-size="27.3" text-anchor="end">0</text>
<text transform="translate(85.2,1891.5) scale(0.97,1)" font-size="27.3" text-anchor="middle">300</text>
<text transform="translate(165.3,1891.5) scale(0.97,1)" font-size="27.3" text-anchor="middle">400</text>
<text transform="translate(244.3,1891.5) scale(0.97,1)" font-size="27.3" text-anchor="middle">500</text>
<text transform="translate(323.7,1891.5) scale(0.97,1)" font-size="27.3" text-anchor="middle">600</text>
<text transform="translate(402.9,1891.5) scale(0.97,1)" font-size="27.3" text-anchor="middle">700</text>
<text transform="translate(482.4,1891.5) scale(0.97,1)" font-size="27.3" text-anchor="middle">800</text>
<text transform="translate(562.0,1891.5) scale(0.97,1)" font-size="27.3" text-anchor="middle">900</text>
<text transform="translate(325,1920) scale(0.95,1)" font-size="27.3" text-anchor="middle"><tspan class="it">T</tspan>/K</text>
<text transform="translate(50.3,1691) rotate(-90) scale(1,0.97)" font-size="25.7" text-anchor="middle"><tspan class="it">y</tspan>/mm</text>
<text transform="translate(123.3,1952.6) scale(0.938,1)" font-size="28.4" text-anchor="start">(d) <tspan font-size="27.3" letter-spacing="1.11" font-weight="600" stroke-width="0.15" baseline-shift="-1">本文模型和前人实验结果的对比</tspan></text>
</g>
</g>
</svg>
</body>
</html>
